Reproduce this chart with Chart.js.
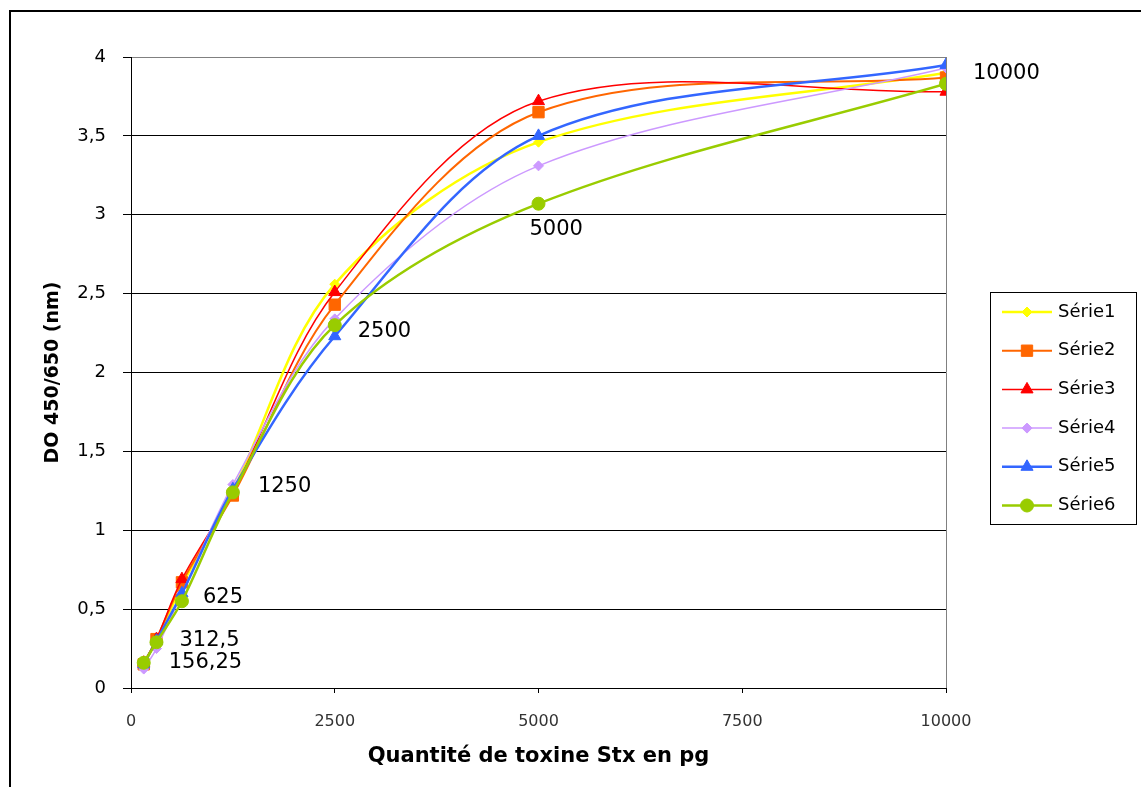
<!DOCTYPE html>
<html>
<head>
<meta charset="utf-8">
<script src="https://cdn.jsdelivr.net/npm/chart.js@4.4.0/dist/chart.umd.min.js"></script>
<style>
  body { margin: 0; background: #fff; }
  canvas { display: block; }
</style>
</head>
<body>
<canvas id="chart" width="1141" height="787"></canvas>
<script>
// --- data ---
const doses = [156.25, 312.5, 625, 1250, 2500, 5000, 10000];
const doseLabels = ['156,25', '312,5', '625', '1250', '2500', '5000', '10000'];
const seriesNames = ['Série1', 'Série2', 'Série3', 'Série4', 'Série5', 'Série6'];
const serie1 = [0.15, 0.30, 0.65, 1.25, 2.56, 3.46, 3.90];
const serie2 = [0.15, 0.31, 0.67, 1.22, 2.43, 3.65, 3.87];
const serie3 = [0.16, 0.31, 0.69, 1.24, 2.51, 3.72, 3.78];
const serie4 = [0.12, 0.25, 0.60, 1.29, 2.34, 3.31, 3.93];
const serie5 = [0.15, 0.30, 0.60, 1.26, 2.23, 3.50, 3.95];
const serie6 = [0.16, 0.29, 0.55, 1.24, 2.30, 3.07, 3.83];
const yTicks = [0, 0.5, 1, 1.5, 2, 2.5, 3, 3.5, 4];
const xTicks = [0, 2500, 5000, 7500, 10000];

const allSeries = [serie1, serie2, serie3, serie4, serie5, serie6];

// styles
const colors = ['#FFFF00', '#FF6600', '#FF0000', '#CC99FF', '#3366FF', '#99CC00'];
const markers = ['rectRot', 'rect', 'triangle', 'rectRot', 'triangle', 'circle'];
const markerSizes = [5, 8, 7, 5, 7, 6.5];
const lineWidths = [2.5, 2, 1.5, 1.5, 2.5, 2.5];
// label offsets (px) from the Série6 point
const labelOffsets = [[25, 0], [23, -2], [21, -4], [25, -6], [23, 6], [-9, 26], [27, -10]];

const datasets = seriesNames.map((name, i) => ({
  label: name,
  data: doses.map((d, j) => ({ x: d, y: allSeries[i][j] })),
  borderColor: colors[i],
  backgroundColor: colors[i],
  borderWidth: lineWidths[i],
  pointStyle: markers[i],
  pointRadius: markerSizes[i],
  pointBorderWidth: 1,
  tension: 0.33,
  fill: false,
  order: 6 - i
}));

const fmt = v => String(v).replace('.', ',');

// frame, plot border, dose labels and legend
const decorations = {
  id: 'decorations',
  beforeDraw(chart) {
    const ctx = chart.ctx;
    ctx.save();
    ctx.fillStyle = '#fff';
    ctx.fillRect(0, 0, chart.width, chart.height);
    ctx.fillStyle = '#000';
    ctx.fillRect(9, 10, chart.width, 2);
    ctx.fillRect(9, 10, 2, chart.height);
    ctx.restore();
  },
  afterDatasetsDraw(chart) {
    const ctx = chart.ctx;
    const a = chart.chartArea;
    const xs = chart.scales.x, ys = chart.scales.y;
    ctx.save();
    // right border of plot area
    ctx.strokeStyle = '#808080';
    ctx.lineWidth = 1;
    ctx.beginPath();
    ctx.moveTo(Math.round(a.right) + 0.5, a.top);
    ctx.lineTo(Math.round(a.right) + 0.5, a.bottom);
    ctx.stroke();

    // dose labels next to the points
    ctx.fillStyle = '#000';
    ctx.font = '21px "DejaVu Sans"';
    ctx.textAlign = 'left';
    ctx.textBaseline = 'middle';
    doseLabels.forEach((t, i) => {
      const px = xs.getPixelForValue(doses[i]);
      const py = ys.getPixelForValue(serie6[i]);
      ctx.fillText(t, px + labelOffsets[i][0], py + labelOffsets[i][1]);
    });

    // legend box
    const lx = a.right + 44, ly = 292, lw = 146, lh = 232;
    ctx.strokeStyle = '#000';
    ctx.strokeRect(lx + 0.5, ly + 0.5, lw, lh);
    ctx.font = '18px "DejaVu Sans"';
    seriesNames.forEach((name, i) => {
      const cy = ly + 20 + i * 38.7;
      ctx.strokeStyle = colors[i];
      ctx.lineWidth = lineWidths[i];
      ctx.beginPath();
      ctx.moveTo(lx + 12, cy);
      ctx.lineTo(lx + 62, cy);
      ctx.stroke();
      ctx.fillStyle = colors[i];
      ctx.strokeStyle = colors[i];
      ctx.lineWidth = 1;
      Chart.helpers.drawPoint(ctx, { pointStyle: markers[i], radius: markerSizes[i], rotation: 0, borderWidth: 1 }, lx + 37, cy);
      ctx.fillStyle = '#000';
      ctx.fillText(name, lx + 68, cy);
    });
    ctx.restore();
  }
};

new Chart(document.getElementById('chart'), {
  type: 'line',
  data: { datasets },
  options: {
    responsive: false,
    animation: false,
    devicePixelRatio: 1,
    layout: { padding: { top: 57, right: 195, left: 0, bottom: 0 } },
    plugins: { legend: { display: false }, tooltip: { enabled: false } },
    scales: {
      x: {
        type: 'linear',
        min: 0,
        max: 10000,
        afterFit: s => { s.height = 99; },
        afterBuildTicks: s => { s.ticks = xTicks.map(v => ({ value: v })); },
        grid: { drawOnChartArea: false, tickLength: 5, tickColor: '#000' },
        border: { color: '#000', width: 1 },
        ticks: {
          padding: 19,
          color: '#333',
          font: { family: 'DejaVu Sans', size: 16 },
          maxRotation: 0,
          callback: v => String(v)
        },
        title: {
          display: true,
          text: 'Quantité de toxine Stx en pg',
          color: '#000',
          font: { family: 'DejaVu Sans', size: 21, weight: 'bold' },
          padding: { top: 0, bottom: 18 }
        }
      },
      y: {
        min: 0,
        max: 4,
        afterFit: s => { s.width = 131; },
        afterBuildTicks: s => { s.ticks = yTicks.map(v => ({ value: v })); },
        grid: {
          color: c => (c.tick && c.tick.value === 4 ? '#808080' : '#000'),
          tickColor: '#000',
          tickLength: 8,
          lineWidth: 1
        },
        border: { color: '#000', width: 1 },
        ticks: {
          padding: 17,
          color: '#000',
          font: { family: 'DejaVu Sans', size: 18 },
          callback: v => fmt(v)
        },
        title: {
          display: true,
          text: 'DO 450/650 (nm)',
          color: '#000',
          font: { family: 'DejaVu Sans', size: 19, weight: 'bold' },
          padding: { top: 42, bottom: 0 }
        }
      }
    }
  },
  plugins: [decorations]
});
</script>
</body>
</html>
